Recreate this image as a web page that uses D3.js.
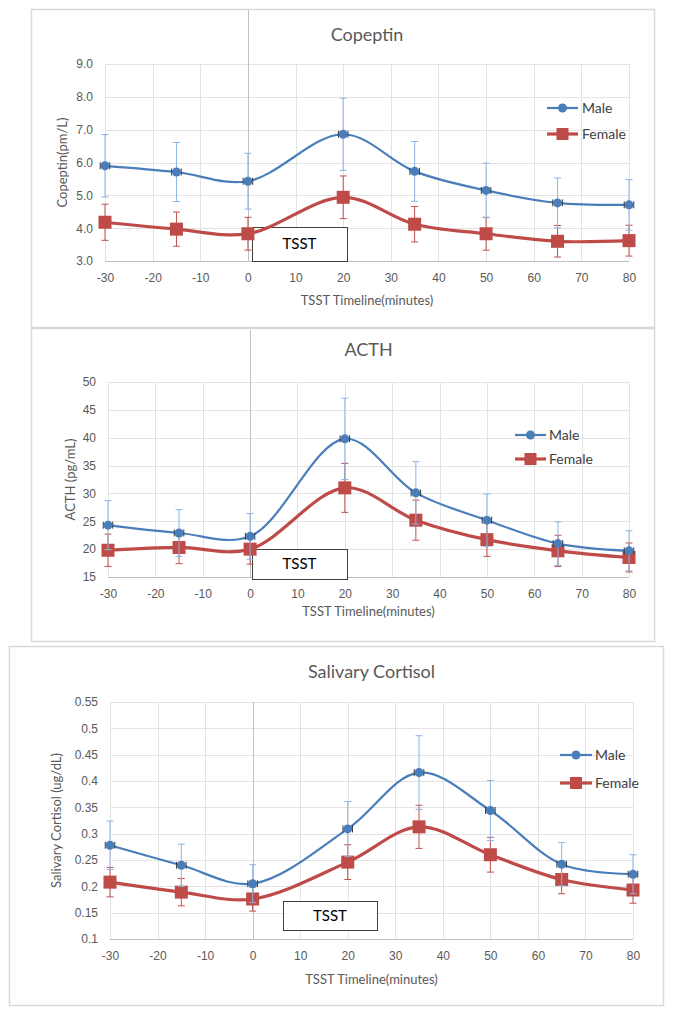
<!DOCTYPE html>
<html><head><meta charset="utf-8">
<script src="https://cdn.jsdelivr.net/npm/d3@7"></script>
<style>body{margin:0;background:#fff;}svg{display:block;font-family:Lato,"Liberation Sans",sans-serif;}</style>
</head><body>
<svg id="c" width="673" height="1016"></svg>
<script>
// ---- data ----
const times = [-30, -15, 0, 20, 35, 50, 65, 80];
const xTicks = [-30, -20, -10, 0, 10, 20, 30, 40, 50, 60, 70, 80];
const seriesNames = ["Male", "Female"];

const copeptinMale = [5.90, 5.71, 5.43, 6.86, 5.73, 5.15, 4.77, 4.71];
const copeptinMaleErr = [0.95, 0.90, 0.85, 1.10, 0.91, 0.83, 0.76, 0.77];
const copeptinFemale = [4.18, 3.97, 3.83, 4.94, 4.12, 3.83, 3.60, 3.62];
const copeptinFemaleErr = [0.55, 0.52, 0.50, 0.65, 0.54, 0.50, 0.48, 0.47];
const copeptinTicks = [3, 4, 5, 6, 7, 8, 9];

const acthMale = [24.3, 22.9, 22.3, 39.8, 30.1, 25.2, 21.0, 19.7];
const acthMaleErr = [4.4, 4.2, 4.1, 7.3, 5.6, 4.7, 3.9, 3.6];
const acthFemale = [19.8, 20.3, 20.0, 31.0, 25.2, 21.7, 19.7, 18.5];
const acthFemaleErr = [2.9, 2.9, 2.7, 4.4, 3.6, 3.0, 2.8, 2.6];
const acthTicks = [15, 20, 25, 30, 35, 40, 45, 50];

const cortisolMale = [0.278, 0.240, 0.205, 0.309, 0.416, 0.344, 0.242, 0.223];
const cortisolMaleErr = [0.046, 0.040, 0.036, 0.052, 0.070, 0.057, 0.041, 0.037];
const cortisolFemale = [0.208, 0.189, 0.176, 0.246, 0.313, 0.260, 0.213, 0.193];
const cortisolFemaleErr = [0.028, 0.026, 0.023, 0.033, 0.041, 0.033, 0.027, 0.025];
const cortisolTicks = [0.1, 0.15, 0.2, 0.25, 0.3, 0.35, 0.4, 0.45, 0.5, 0.55];

const xErr = 1.0; // small horizontal error bars (minutes)

// ---- layout ----
const panels = [
  {title:"Copeptin", yLabel:"Copeptin(pm/L)", male:copeptinMale, maleErr:copeptinMaleErr,
   female:copeptinFemale, femaleErr:copeptinFemaleErr, ticks:copeptinTicks, fmt:d3.format(".1f"),
   frame:[31,9,654,327], plot:{l:105,r:629,t:64,b:261}, titleY:35, xTitleY:300, yLabelX:62,
   legend:{y1:108,y2:134,x1:547,x2:578,tx:582}, tsst:{x:252,y:227,w:95,h:34}, zeroLineTop:10},
  {title:"ACTH", yLabel:"ACTH (pg/mL)", male:acthMale, maleErr:acthMaleErr,
   female:acthFemale, femaleErr:acthFemaleErr, ticks:acthTicks, fmt:d3.format("d"),
   frame:[31,328,654,641], plot:{l:108,r:629,t:382,b:577}, titleY:350, xTitleY:611, yLabelX:70,
   legend:{y1:435,y2:459,x1:515,x2:546,tx:549}, tsst:{x:252,y:549,w:95,h:30}, zeroLineTop:330},
  {title:"Salivary Cortisol", yLabel:"Salivary Cortisol (ug/dL)", male:cortisolMale, maleErr:cortisolMaleErr,
   female:cortisolFemale, femaleErr:cortisolFemaleErr, ticks:cortisolTicks, fmt:d3.format("~g"),
   frame:[9,646,663,1005], plot:{l:110,r:633,t:702,b:939}, titleY:672, xTitleY:979, yLabelX:56,
   legend:{y1:755,y2:783,x1:560,x2:592,tx:595}, tsst:{x:283,y:901,w:94,h:29}, zeroLineTop:702}
];

const maleColor = "#4A7EBB", maleErrColor = "#8DB3E2";
const femaleColor = "#BE4B48", femaleErrColor = "#C0504D";
const svg = d3.select("#c");
const xFmt = d => String(d); // plain hyphen-minus as in the original

panels.forEach(p => {
  const g = svg.append("g");
  const [fx0, fy0, fx1, fy1] = p.frame;
  g.append("rect").attr("x", fx0 + 0.5).attr("y", fy0 + 0.5).attr("width", fx1 - fx0).attr("height", fy1 - fy0)
    .attr("fill", "#fff").attr("stroke", "#D9D9D9").attr("stroke-width", 1.5);

  const x = d3.scaleLinear().domain([-30, 80]).range([p.plot.l, p.plot.r]);
  const y = d3.scaleLinear().domain([d3.min(p.ticks), d3.max(p.ticks)]).range([p.plot.b, p.plot.t]);

  // grid
  g.append("g").selectAll("line").data(p.ticks).join("line")
    .attr("x1", p.plot.l).attr("x2", p.plot.r)
    .attr("y1", d => Math.round(y(d)) + 0.5).attr("y2", d => Math.round(y(d)) + 0.5)
    .attr("stroke", d => d === d3.min(p.ticks) ? "#BFBFBF" : "#E3E3E3").attr("stroke-width", 1);
  g.append("g").selectAll("line").data(xTicks.filter(d => d !== 0)).join("line")
    .attr("x1", d => Math.round(x(d)) + 0.5).attr("x2", d => Math.round(x(d)) + 0.5)
    .attr("y1", p.plot.t).attr("y2", p.plot.b)
    .attr("stroke", "#E3E3E3").attr("stroke-width", 1);
  // zero line (vertical axis)
  g.append("line").attr("x1", Math.round(x(0)) + 0.5).attr("x2", Math.round(x(0)) + 0.5)
    .attr("y1", p.zeroLineTop).attr("y2", p.plot.b).attr("stroke", "#BFBFBF").attr("stroke-width", 1);

  // axes labels
  const yAxis = d3.axisLeft(y).tickValues(p.ticks).tickFormat(p.fmt).tickSize(0).tickPadding(12);
  const ya = g.append("g").attr("transform", `translate(${p.plot.l},0)`).call(yAxis);
  ya.select(".domain").remove();
  ya.selectAll("text").attr("fill", "#595959").attr("font-size", 12);
  const xAxis = d3.axisBottom(x).tickValues(xTicks).tickFormat(xFmt).tickSize(0).tickPadding(12);
  const xa = g.append("g").attr("transform", `translate(0,${p.plot.b})`).call(xAxis);
  xa.select(".domain").remove();
  xa.selectAll("text").attr("fill", "#595959").attr("font-size", 12);

  // titles
  g.append("text").attr("x", (p.plot.l + p.plot.r) / 2).attr("y", p.titleY).attr("dy", "0.35em")
    .attr("text-anchor", "middle").attr("fill", "#595959").attr("font-size", 18).text(p.title);
  g.append("text").attr("x", (p.plot.l + p.plot.r) / 2).attr("y", p.xTitleY).attr("dy", "0.35em")
    .attr("text-anchor", "middle").attr("fill", "#595959").attr("font-size", 13).text("TSST Timeline(minutes)");
  g.append("text").attr("transform", `translate(${p.yLabelX},${(p.plot.t + p.plot.b) / 2}) rotate(-90)`)
    .attr("dy", "0.35em").attr("text-anchor", "middle").attr("fill", "#595959").attr("font-size", 13).text(p.yLabel);

  // TSST box
  g.append("rect").attr("x", p.tsst.x + 0.5).attr("y", p.tsst.y + 0.5).attr("width", p.tsst.w).attr("height", p.tsst.h)
    .attr("fill", "#fff").attr("stroke", "#404040").attr("stroke-width", 1);
  g.append("text").attr("x", p.tsst.x + p.tsst.w / 2).attr("y", p.tsst.y + p.tsst.h / 2).attr("dy", "0.35em")
    .attr("text-anchor", "middle").attr("fill", "#000").attr("font-size", 15).attr("font-weight", 400).text("TSST");

  const series = [
    {name: seriesNames[1], vals: p.female, err: p.femaleErr, color: femaleColor, ecol: femaleErrColor, w: 3.2, shape: "square"},
    {name: seriesNames[0], vals: p.male, err: p.maleErr, color: maleColor, ecol: maleErrColor, w: 2.2, shape: "circle"}
  ];
  const line = d3.line().x((d, i) => x(times[i])).y(d => y(d)).curve(d3.curveCatmullRom.alpha(0.5));

  series.forEach(s => {
    const sg = g.append("g");
    // vertical error bars
    times.forEach((t, i) => {
      const cx = x(t), y1 = y(s.vals[i] + s.err[i]), y2 = y(s.vals[i] - s.err[i]);
      sg.append("line").attr("x1", cx).attr("x2", cx).attr("y1", y1).attr("y2", y2).attr("stroke", s.ecol).attr("stroke-width", 1);
      [y1, y2].forEach(yy => sg.append("line").attr("x1", cx - 3.5).attr("x2", cx + 3.5).attr("y1", yy).attr("y2", yy)
        .attr("stroke", s.ecol).attr("stroke-width", 1));
    });
    sg.append("path").datum(s.vals).attr("d", line).attr("fill", "none").attr("stroke", s.color).attr("stroke-width", s.w);
    // horizontal error bars
    times.forEach((t, i) => {
      const cy = y(s.vals[i]), xa1 = x(t - xErr), xa2 = x(t + xErr);
      sg.append("line").attr("x1", xa1).attr("x2", xa2).attr("y1", cy).attr("y2", cy).attr("stroke", "#333").attr("stroke-width", 1);
      [xa1, xa2].forEach(xx => sg.append("line").attr("x1", xx).attr("x2", xx).attr("y1", cy - 3.5).attr("y2", cy + 3.5)
        .attr("stroke", "#333").attr("stroke-width", 1));
    });
    // markers
    if (s.shape === "circle") {
      sg.selectAll("circle.m").data(s.vals).join("circle").attr("class", "m")
        .attr("cx", (d, i) => x(times[i])).attr("cy", d => y(d)).attr("r", 4.5).attr("fill", s.color);
    } else {
      sg.selectAll("rect.m").data(s.vals).join("rect").attr("class", "m")
        .attr("x", (d, i) => x(times[i]) - 6.5).attr("y", d => y(d) - 6.5).attr("width", 13).attr("height", 13).attr("fill", s.color);
    }
  });

  // legend
  const L = p.legend;
  [[seriesNames[0], L.y1, maleColor, "circle", 2.2], [seriesNames[1], L.y2, femaleColor, "square", 3.2]].forEach(([nm, ly, col, shp, w]) => {
    g.append("line").attr("x1", L.x1).attr("x2", L.x2).attr("y1", ly).attr("y2", ly).attr("stroke", col).attr("stroke-width", w);
    const mx = (L.x1 + L.x2) / 2;
    if (shp === "circle") g.append("circle").attr("cx", mx).attr("cy", ly).attr("r", 4.5).attr("fill", col);
    else g.append("rect").attr("x", mx - 6).attr("y", ly - 6).attr("width", 12).attr("height", 12).attr("fill", col);
    g.append("text").attr("x", L.tx).attr("y", ly).attr("dy", "0.35em").attr("fill", "#404040").attr("font-size", 14).text(nm);
  });
});
</script>
</body></html>
